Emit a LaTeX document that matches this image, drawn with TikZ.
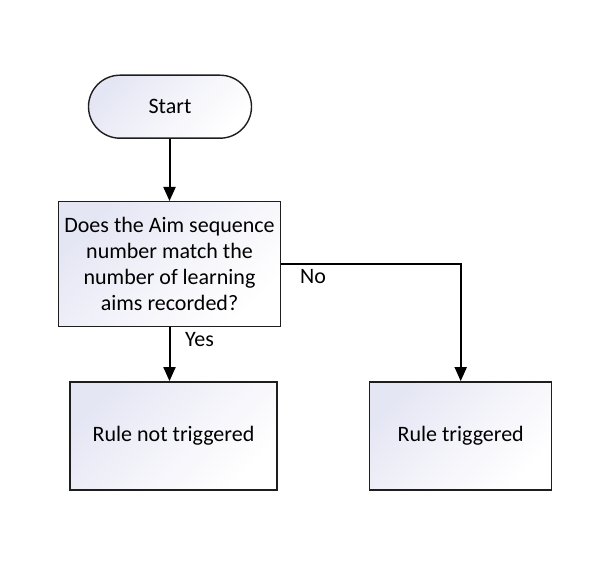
\documentclass[tikz,border=0pt]{standalone}
\usepackage{fontspec}
\setmainfont{Carlito}
\usetikzlibrary{shapes.misc,arrows.meta}
\definecolor{lav}{RGB}{229,230,244}
\definecolor{lavmid}{RGB}{243,243,250}
\definecolor{edgec}{RGB}{30,30,30}
\begin{document}
\begin{tikzpicture}[x=1bp,y=1bp,
 box/.style={draw=edgec, line width=1.4bp, top color=lav, bottom color=white, middle color=lavmid, shading angle=45, inner sep=0pt, align=center, font=\fontsize{22bp}{26bp}\selectfont},
 arr/.style={line width=2bp, -{Triangle[width=12bp,length=14bp]}},
 lbl/.style={font=\fontsize{22bp}{26bp}\selectfont, inner sep=0pt, anchor=base west}]
\useasboundingbox (0,0) rectangle (598,-562);
\fill[white] (0,0) rectangle (598,-562);
\node[box, rounded rectangle, minimum width=163bp, minimum height=63bp] (start) at (170,-106.7) {Start};
\node[box, rectangle, minimum width=222bp, minimum height=125bp] (dec) at (169.5,-264.2) {Does the Aim sequence\\number match the\\number of learning\\aims recorded?};
\node[box, rectangle, minimum width=207bp, minimum height=108bp] (rnt) at (173.5,-435.8) {Rule not triggered};
\node[box, rectangle, minimum width=182bp, minimum height=108bp] (rt) at (460.7,-435.8) {Rule triggered};
\draw[arr] (start.south -| dec.north) -- (dec.north);
\draw[arr] (dec.south) -- (dec.south |- rnt.north);
\draw[arr] (dec.east) -| (rt.north);
\node[lbl] (no) at (300,-283) {No};
\node[lbl] (yes) at (185,-346) {Yes};
\end{tikzpicture}
\end{document}
